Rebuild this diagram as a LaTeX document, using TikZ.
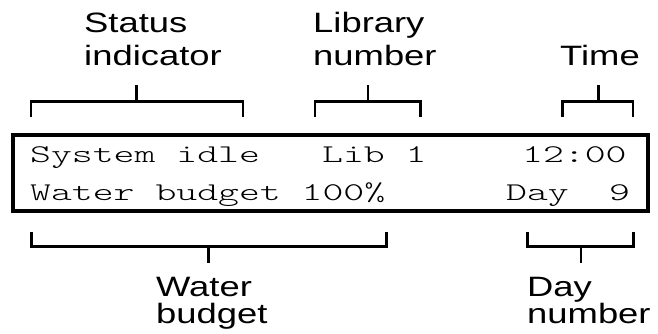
\documentclass[tikz,border=0pt]{standalone}
\usepackage{fontspec}
\newfontfamily\labelfont{Liberation Sans}[FakeStretch=1.3]
% column pitch of the display text
\newcommand\lcdtext[1]{\scalebox{1.56}[1]{#1}}
% bracket above the display: left x, right x, stem x
\newcommand\topbracket[3]{%
  \draw[bracket] (#1,116.7) -- (#1,101.7) -- (#2,101.7) -- (#2,116.7);
  \draw[bracket] (#3,101.7) -- (#3,85.5);}
% bracket below the display: left x, right x, stem x
\newcommand\bottombracket[3]{%
  \draw[bracket] (#1,232) -- (#1,246.3) -- (#2,246.3) -- (#2,232);
  \draw[bracket] (#3,246.3) -- (#3,262.5);}
\begin{document}
\begin{tikzpicture}[x=1pt,y=-1pt,
  lcd/.style={inner sep=0pt, anchor=base west,
    font=\fontseries{l}\ttfamily\fontsize{25.5}{30}\selectfont},
  lbl/.style={inner sep=0pt, anchor=base west, align=left,
    font=\labelfont\fontsize{28}{33}\selectfont},
  lbllow/.style={lbl, font=\labelfont\fontsize{28}{27.5}\selectfont},
  frame/.style={draw, line width=4pt, minimum width=635pt,
    minimum height=76.5pt, inner sep=0pt},
  bracket/.style={draw, line width=2.8pt, line join=miter}]
\useasboundingbox (0,0) rectangle (658,334);

% display outline
\node[frame] (display) at (330.5,172.75) {};

% first row
\node[lcd] (status) at (30,162.3)  {\lcdtext{System idle}};
\node[lcd] (lib)    at (322,162.3) {\lcdtext{Lib 1}};
\node[lcd] (clock)  at (522,162.3) {\lcdtext{12:00}};
% second row
\node[lcd] (water)  at (30,200.3)  {\lcdtext{Water budget 100\%}};
\node[lcd] (day)    at (506,200.3) {\lcdtext{Day}};
\node[lcd] (daynum) at (609,200.3) {\lcdtext{9}};

% brackets
\topbracket{31}{243}{136.7}
\topbracket{315}{420.7}{368}
\topbracket{562.3}{633}{598.7}
\bottombracket{31.7}{386.3}{208.3}
\bottombracket{527.3}{633.3}{581}

% captions (anchored at the baseline of their last line)
\node[lbl] (lstatus) at (84,66)   {Status\\indicator};
\node[lbl] (llib)    at (313,66)  {Library\\number};
\node[lbl] (ltime)   at (560,66)  {Time};
\node[lbllow] (lwater) at (156,323.5) {Water\\budget};
\node[lbllow] (lday)   at (527,323.5) {Day\\number};
\end{tikzpicture}
\end{document}
